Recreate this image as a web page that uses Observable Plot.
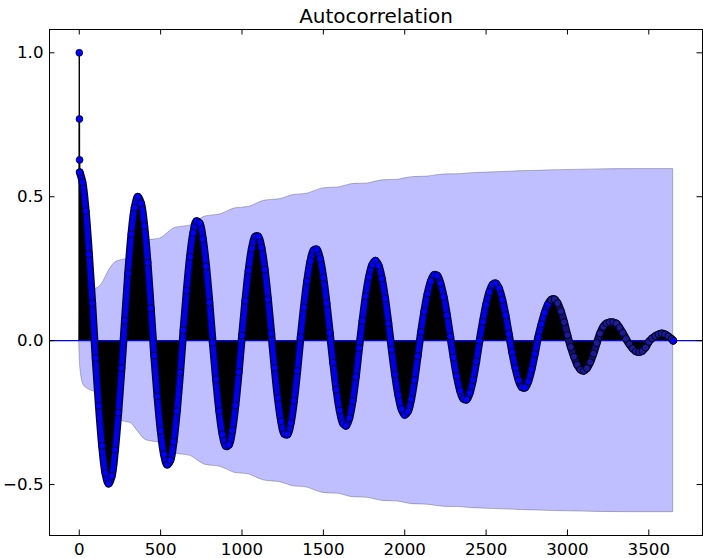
<!DOCTYPE html>
<html>
<head>
<meta charset="utf-8">
<script src="https://cdn.jsdelivr.net/npm/d3@7"></script>
<script src="https://cdn.jsdelivr.net/npm/@observablehq/plot@0.6"></script>
<style>
  html, body { margin: 0; padding: 0; background: white; }
</style>
</head>
<body>
<script>
// ---- Data ----
const title = "Autocorrelation";

// first lags, drawn as separate stems
const headLags = [0, 1, 2, 3];
const headAcf  = [1.0, 0.77, 0.628, 0.585];

// autocorrelation read every 20 lags, from lag 20 to lag 3640
const lagStep = 20;
const acfSampled = [
  0.55, 0.45, 0.30, 0.13, -0.061, -0.227, -0.366, -0.460, -0.497, -0.47,
  -0.38, -0.25, -0.095, 0.069, 0.234, 0.370, 0.462, 0.500, 0.477, 0.398,
  0.271, 0.112, -0.052, -0.194, -0.313, -0.395, -0.431, -0.416, -0.351, -0.245,
  -0.111, 0.036, 0.173, 0.291, 0.374, 0.415, 0.408, 0.353, 0.258, 0.133,
  -0.007, -0.134, -0.245, -0.326, -0.366, -0.362, -0.313, -0.225, -0.110, 0.018,
  0.138, 0.243, 0.320, 0.361, 0.362, 0.323, 0.247, 0.144, 0.025, -0.094,
  -0.200, -0.280, -0.324, -0.326, -0.286, -0.209, -0.105, 0.011, 0.116, 0.207,
  0.276, 0.314, 0.317, 0.284, 0.219, 0.130, 0.027, -0.077, -0.170, -0.243,
  -0.287, -0.296, -0.269, -0.210, -0.126, -0.026, 0.069, 0.154, 0.221, 0.264,
  0.278, 0.261, 0.215, 0.146, 0.060, -0.032, -0.118, -0.189, -0.238, -0.258,
  -0.246, -0.204, -0.137, -0.054, 0.030, 0.102, 0.163, 0.206, 0.228, 0.226,
  0.199, 0.152, 0.088, 0.015, -0.058, -0.124, -0.174, -0.202, -0.205, -0.182,
  -0.136, -0.072, 0.000, 0.066, 0.125, 0.169, 0.195, 0.199, 0.181, 0.142,
  0.088, 0.023, -0.040, -0.095, -0.138, -0.162, -0.163, -0.141, -0.100, -0.046,
  0.012, 0.057, 0.097, 0.126, 0.142, 0.144, 0.130, 0.102, 0.064, 0.019,
  -0.022, -0.056, -0.084, -0.101, -0.105, -0.096, -0.075, -0.045, -0.009, 0.025,
  0.048, 0.060, 0.064, 0.064, 0.060, 0.045, 0.027, 0.006, -0.012, -0.027,
  -0.037, -0.040, -0.036, -0.024, -0.004, 0.008, 0.016, 0.022, 0.025, 0.022,
  0.015, 0.006
];
const lastLag = 3650;
const lastAcf = 0.0;

// confidence band half-width (band is symmetric around 0)
const bandLags = [0, 1, 2, 3, 5, 10, 15, 25, 40, 60, 80, 100, 138, 182, 227, 272,
  317, 362, 408, 453, 498, 544, 590, 635, 681, 727, 773, 819, 864, 908, 953, 997,
  1044, 1090, 1137, 1184, 1228, 1271, 1315, 1358, 1405, 1452, 1498, 1545, 1590,
  1635, 1680, 1725, 1772, 1819, 1866, 1913, 1958, 2002, 2047, 2092, 2140, 2188,
  2236, 2284, 2328, 2372, 2416, 2460, 2553, 2647, 2731, 2815, 2911, 3008, 3096,
  3185, 3366, 3650];
const bandHalf = [0, 0.032, 0.05, 0.065, 0.085, 0.113, 0.133, 0.152, 0.163, 0.170,
  0.175, 0.179, 0.196, 0.243, 0.274, 0.281, 0.287, 0.317, 0.345, 0.351, 0.355,
  0.374, 0.392, 0.396, 0.400, 0.416, 0.431, 0.435, 0.438, 0.448, 0.459, 0.462,
  0.465, 0.476, 0.486, 0.489, 0.491, 0.498, 0.506, 0.508, 0.511, 0.521, 0.529,
  0.531, 0.532, 0.538, 0.544, 0.545, 0.546, 0.552, 0.557, 0.558, 0.559, 0.564,
  0.568, 0.569, 0.570, 0.574, 0.577, 0.578, 0.578, 0.580, 0.582, 0.583, 0.585,
  0.587, 0.589, 0.590, 0.592, 0.593, 0.594, 0.595, 0.596, 0.596];

const xTicks = [0, 500, 1000, 1500, 2000, 2500, 3000, 3500];
const xTickLabels = ["0", "500", "1000", "1500", "2000", "2500", "3000", "3500"];
const yTicks = [-0.5, 0.0, 0.5, 1.0];
const yTickLabels = ["\u22120.5", "0.0", "0.5", "1.0"];
const zeroLine = [0];

// ---- Tables built from the arrays ----
const head = headLags.map((lag, i) => ({lag, acf: headAcf[i]}));
const sampled = acfSampled.map((acf, i) => ({lag: (i + 1) * lagStep, acf}));
const lastPoint = {lag: lastLag, acf: lastAcf};
const all = [...head, ...sampled, lastPoint];
const chain = all.filter(d => d.lag >= 3);
const chainEarly = chain.filter(d => d.lag <= 2900);
const chainLate = chain.filter(d => d.lag >= 2900);
const stems = head.filter(d => d.lag < 3);
const band = bandLags.map((lag, i) => ({lag, half: bandHalf[i]}));

const W = 703, H = 558;
const mL = 49, mR = 1, mT = 29, mB = 23;
const innerW = W - mL - mR, innerH = H - mT - mB;
const tickLen = 5.5;
const font = "DejaVu Sans";
const tickFont = 16.67;

const chart = Plot.plot({
  width: W,
  height: H,
  marginLeft: mL,
  marginRight: mR,
  marginTop: mT,
  marginBottom: mB,
  style: {fontFamily: font, fontSize: tickFont + "px", background: "white"},
  x: {domain: [-183, 3830], axis: null},
  y: {domain: [-0.677, 1.081], axis: null},
  marks: [
    // confidence band (below everything)
    Plot.areaY(band, {x: "lag", y1: d => -d.half, y2: d => d.half,
      fill: "#0000ff", fillOpacity: 0.25, stroke: "#000", strokeOpacity: 0.25,
      strokeWidth: 1, curve: "monotone-x"}),
    // stems
    Plot.areaY(chain, {x: "lag", y: "acf", fill: "black", curve: "catmull-rom"}),
    Plot.ruleX(stems, {x: "lag", y1: 0, y2: "acf", stroke: "black", strokeWidth: 1.4}),
    // zero line
    Plot.ruleY(zeroLine, {stroke: "#0000ff", strokeWidth: 1.2}),
    // dense markers
    Plot.line(chain, {x: "lag", y: "acf", stroke: "#05052a", strokeWidth: 7.8,
      strokeLinecap: "round", curve: "catmull-rom"}),
    Plot.line(chainEarly, {x: "lag", y: "acf", stroke: "#0000e8", strokeWidth: 5.2,
      strokeLinecap: "round", curve: "catmull-rom"}),
    Plot.line(chainLate, {x: "lag", y: "acf", stroke: "#12127a", strokeWidth: 5.2,
      strokeLinecap: "round", curve: "catmull-rom"}),
    Plot.dot(chainEarly, {x: "lag", y: "acf", r: 3.45, fill: "#0000ff",
      stroke: "#000", strokeWidth: 0.7}),
    Plot.dot(chainLate, {x: "lag", y: "acf", r: 3.45, fill: "#1a1a9a",
      stroke: "#000", strokeWidth: 0.8}),
    Plot.dot([...stems, lastPoint], {x: "lag", y: "acf", r: 3.45, fill: "#0000ff",
      stroke: "#000", strokeWidth: 0.7}),
    // ticks on all four sides, pointing inward
    Plot.ruleX(xTicks, {x: d => d, insetBottom: innerH - tickLen, stroke: "black", strokeWidth: 1}),
    Plot.ruleX(xTicks, {x: d => d, insetTop: innerH - tickLen, stroke: "black", strokeWidth: 1}),
    Plot.ruleY(yTicks, {y: d => d, insetRight: innerW - tickLen, stroke: "black", strokeWidth: 1}),
    Plot.ruleY(yTicks, {y: d => d, insetLeft: innerW - tickLen, stroke: "black", strokeWidth: 1}),
    // tick labels
    Plot.text(xTicks, {x: d => d, text: (d, i) => xTickLabels[i], frameAnchor: "bottom",
      lineAnchor: "top", dy: 8, fontSize: tickFont, fill: "black"}),
    Plot.text(yTicks, {y: d => d, text: (d, i) => yTickLabels[i], frameAnchor: "left",
      textAnchor: "end", lineAnchor: "middle", dx: -6, fontSize: tickFont, fill: "black"}),
    // title
    Plot.text([title], {frameAnchor: "top", lineAnchor: "bottom", dy: -7,
      fontSize: 20, fill: "black"}),
    Plot.frame({stroke: "black", strokeWidth: 1})
  ]
});
document.body.append(chart);
</script>
</body>
</html>
